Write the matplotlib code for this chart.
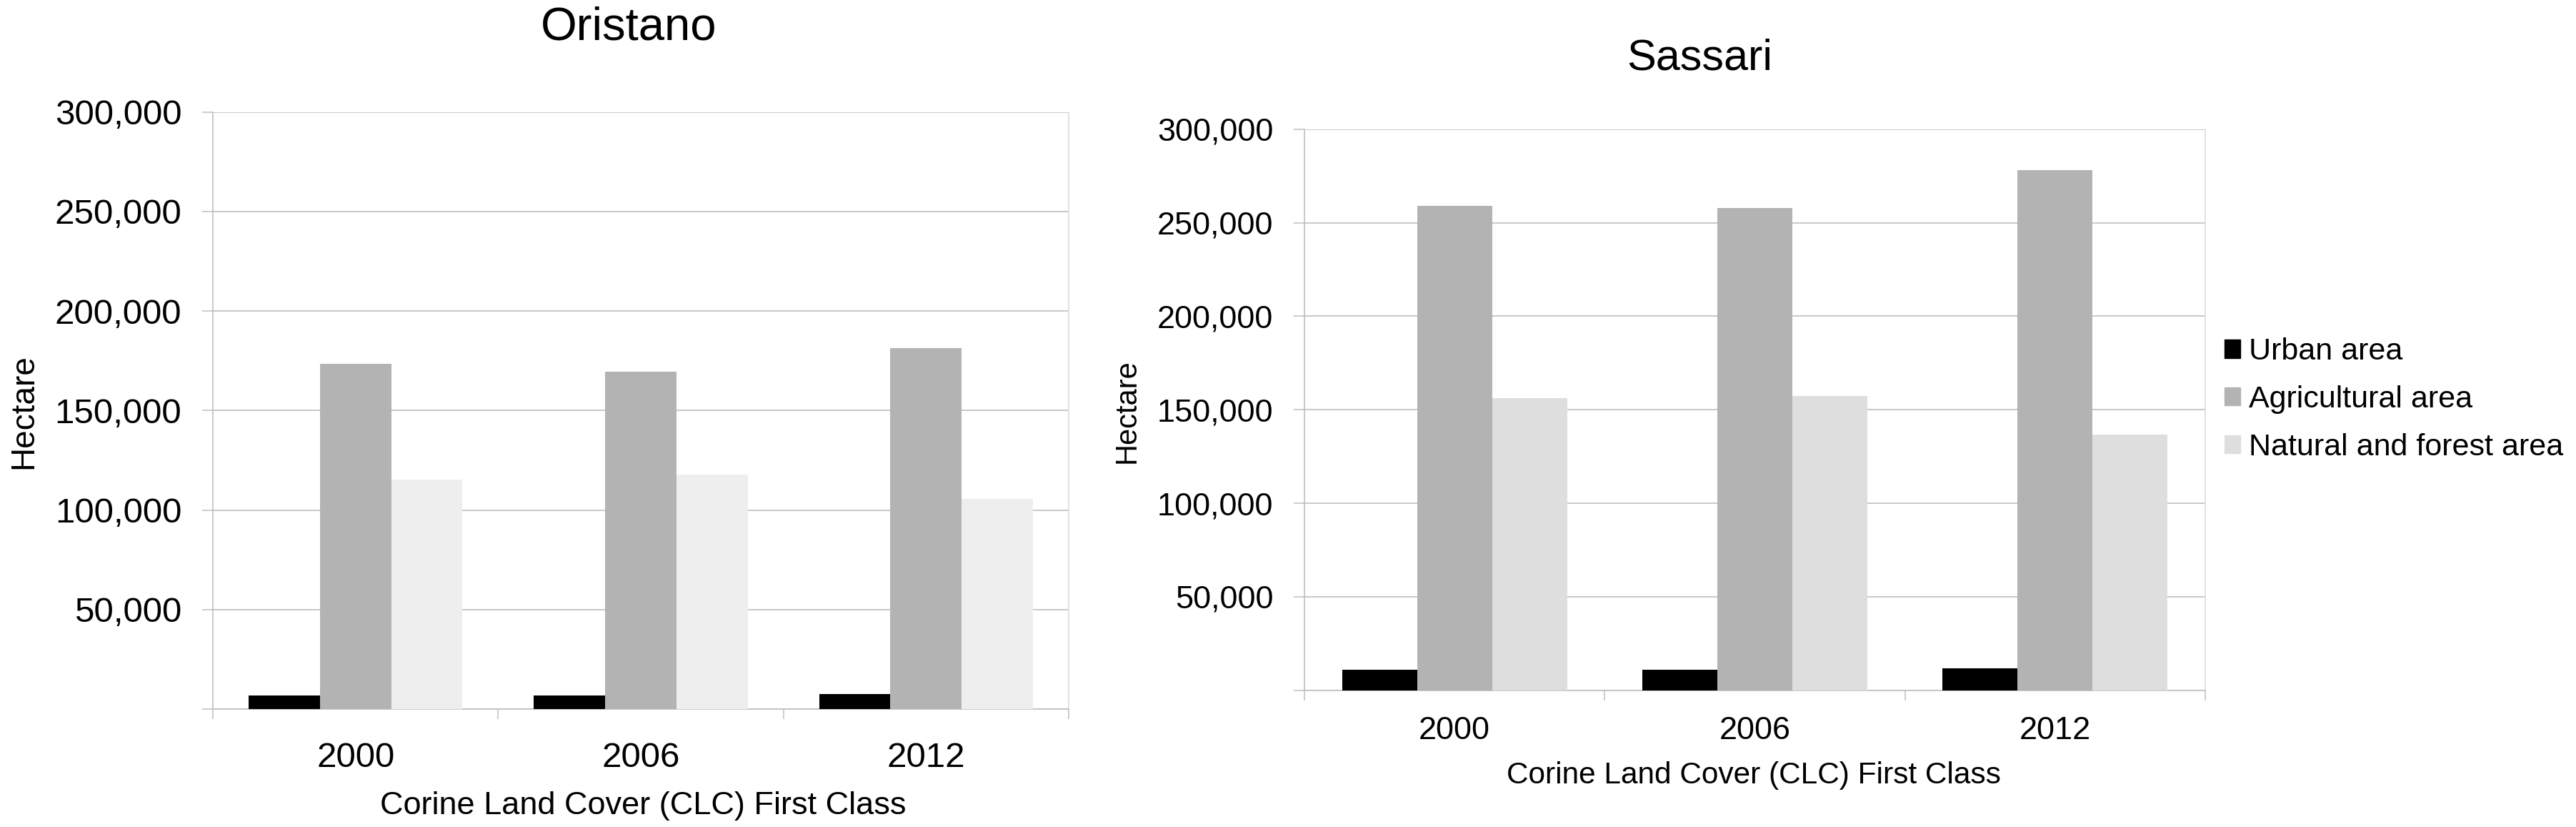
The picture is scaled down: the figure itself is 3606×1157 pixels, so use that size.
import matplotlib
matplotlib.use("Agg")
from matplotlib import pyplot as plt
from matplotlib.patches import Patch

plt.rcParams['font.family'] = ['Liberation Sans', 'DejaVu Sans']

# data (hectares)
years = ['2000', '2006', '2012']
series_names = ['Urban area', 'Agricultural area', 'Natural and forest area']

oristano_urban = [7000, 7000, 7400]
oristano_agri = [173400, 169600, 181300]
oristano_natural = [115400, 117800, 105600]

sassari_urban = [10900, 10900, 11700]
sassari_agri = [259200, 257800, 278200]
sassari_natural = [156200, 157300, 136700]

yticks = [0, 50000, 100000, 150000, 200000, 250000, 300000]

GRID = '#BFBFBF'
W = 3606
H = 1157


def fx(px):
    return px / W


def fy(py):
    return 1 - py / H


def panel(ax, urban, agri, natural, natural_color, fs, xpad):
    x = range(len(years))
    ax.bar([i - 0.25 for i in x], urban, width=0.25, color='black', zorder=3)
    ax.bar([i for i in x], agri, width=0.25, color='#B3B3B3', zorder=3)
    ax.bar([i + 0.25 for i in x], natural, width=0.25, color=natural_color, zorder=3)

    ax.set_xlim(-0.5, 2.5)
    ax.set_ylim(0, 300000)
    ax.set_yticks(yticks)
    ax.set_yticklabels([''] + ['{:,}'.format(v) for v in yticks[1:]], fontsize=fs)
    ax.yaxis.grid(True, color=GRID, linewidth=1.2, zorder=0)
    ax.set_axisbelow(True)
    ax.tick_params(axis='y', length=10.5, width=1.1, color=GRID, pad=21)

    # category separators as ticks, year labels on minor ticks
    ax.set_xticks([-0.5, 0.5, 1.5, 2.5])
    ax.set_xticklabels([])
    ax.tick_params(axis='x', which='major', length=10, width=1.1, color=GRID)
    ax.set_xticks([0, 1, 2], minor=True)
    ax.set_xticklabels(years, minor=True, fontsize=fs)
    ax.tick_params(axis='x', which='minor', length=0, pad=xpad)

    ax.spines['top'].set_visible(False)
    ax.spines['right'].set_color('#DDDDDD')
    ax.spines['left'].set_color(GRID)
    ax.spines['bottom'].set_color(GRID)
    for s in ax.spines.values():
        s.set_linewidth(1.2)


fig = plt.figure(figsize=(36.06, 11.57), dpi=100)

# Oristano
ax1 = fig.add_axes([fx(298), fy(992), fx(1496 - 298), (992 - 156.6) / H])
panel(ax1, oristano_urban, oristano_agri, oristano_natural, '#EEEEEE', 35.5, 33)
fig.text(fx(880), fy(38), 'Oristano', fontsize=47, ha='center', va='center')
fig.text(fx(900), fy(1128), 'Corine Land Cover (CLC) First Class', fontsize=32.5, ha='center', va='center')
fig.text(fx(33), fy(576), 'Hectare', fontsize=33, rotation=90, ha='center', va='center')

# Sassari
ax2 = fig.add_axes([fx(1826), fy(965.6), fx(3087 - 1826), (965.6 - 180.8) / H])
panel(ax2, sassari_urban, sassari_agri, sassari_natural, '#DEDEDE', 32.5, 26)
fig.text(fx(2379), fy(82), 'Sassari', fontsize=44, ha='center', va='center')
fig.text(fx(2455), fy(1085), 'Corine Land Cover (CLC) First Class', fontsize=30.5, ha='center', va='center')
fig.text(fx(1578), fy(575), 'Hectare', fontsize=30, rotation=90, ha='center', va='center')

handles = [Patch(color='black'), Patch(color='#B3B3B3'), Patch(color='#DEDEDE')]
fig.legend(handles, series_names, loc='center left', bbox_to_anchor=(fx(3114), fy(559)),
           frameon=False, fontsize=31, handlelength=0.52, handleheight=0.52,
           handletextpad=0.28, labelspacing=0.62, borderpad=0, borderaxespad=0)

plt.savefig('out.png', dpi=100, facecolor='white')
